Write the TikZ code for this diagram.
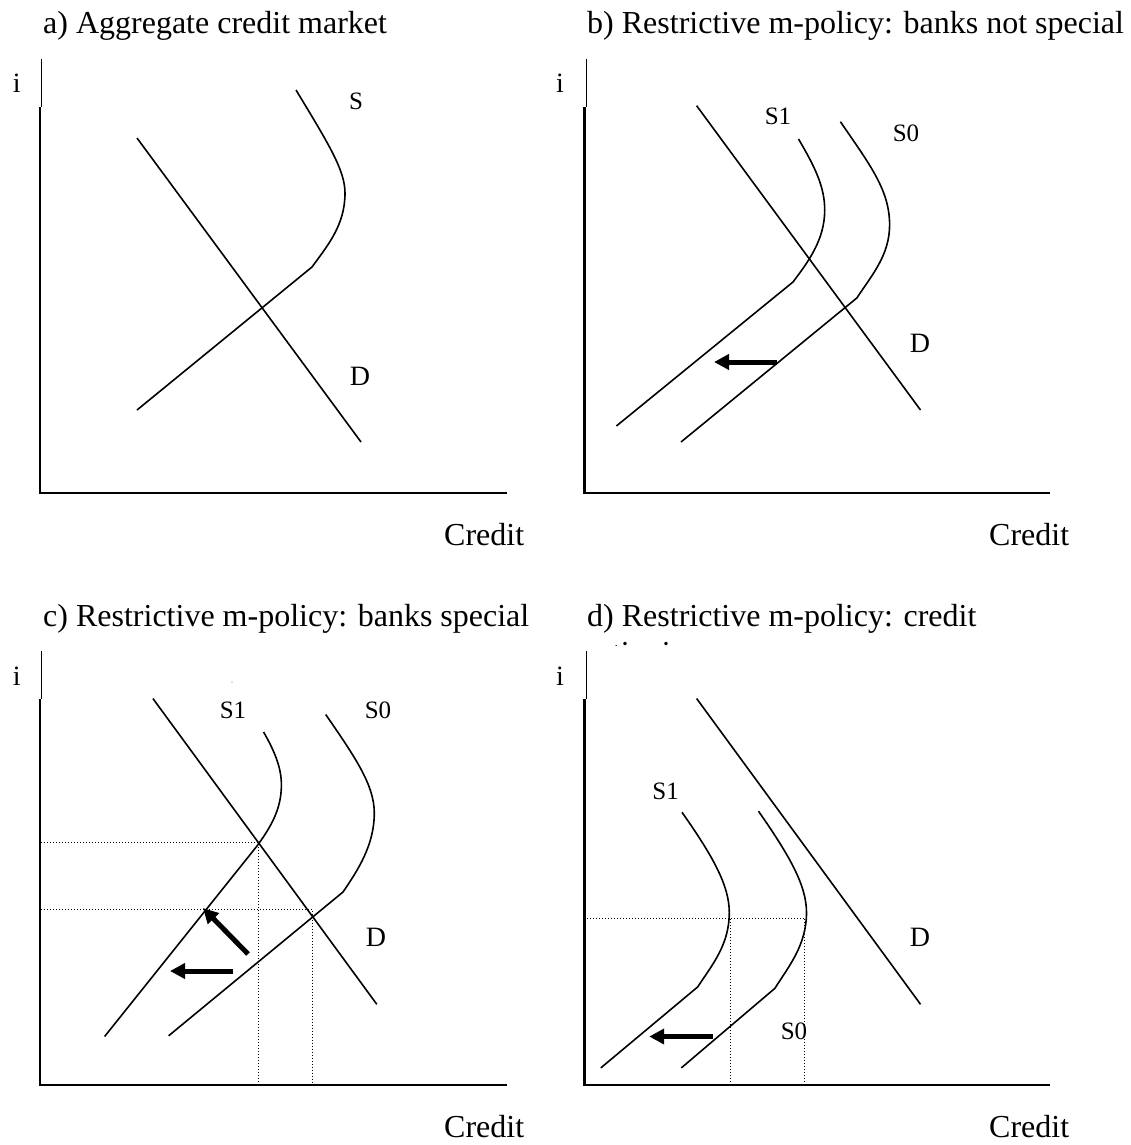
\documentclass[tikz,border=0pt]{standalone}
\usepackage{fontspec}
\setmainfont{Liberation Serif}
\usetikzlibrary{arrows.meta}
\tikzset{
  axisline/.style={line width=2.4pt},
  axistop/.style={line width=1pt},
  curve/.style={line width=1.6pt},
  guide/.style={line width=1pt, dash pattern=on 1pt off 2pt},
  shiftarrow/.style={line width=5pt, -{Triangle[length=15pt,width=15pt]}},
  titletext/.style={inner sep=0pt, anchor=base west, font=\fontsize{32}{38}\selectfont},
  axistext/.style={inner sep=0pt, anchor=base west, font=\fontsize{32}{38}\selectfont},
  itext/.style={inner sep=0pt, anchor=base west, font=\fontsize{28}{34}\selectfont},
  dlabel/.style={inner sep=0pt, anchor=center, font=\fontsize{28}{34}\selectfont},
  slabel/.style={inner sep=0pt, anchor=center, font=\fontsize{25}{30}\selectfont},
}
\begin{document}
\begin{tikzpicture}[x=1pt,y=-1pt]
\useasboundingbox[fill=white] (0,0) rectangle (1131,1145);

% ---------------- panel a ----------------
\node[titletext] (ta) at (43,34) {a) Aggregate credit market};
\node[itext] (ia) at (12.7,93) {i};
\node[axistext] (ca) at (444,545) {Credit};
\draw[axistop] (41.5,59) -- (41.5,107);
\draw[axisline] (40,107) -- (40,493) -- (507,493);
\draw[curve] (137,138) -- (361,442);
\draw[curve] (296,90) .. controls (328,143) and (345,170) .. (345,193)
  .. controls (345,225) and (328,245) .. (312,267) -- (137,410);
\node[slabel] (sa) at (356,101) {S};
\node[dlabel] (da) at (360,376) {D};

% ---------------- panel b ----------------
\node[titletext] (tb) at (587,34) {b) Restrictive m-policy: banks not special};
\node[itext] (ib) at (556,93) {i};
\node[axistext] (cb) at (989,545) {Credit};
\draw[axistop] (586,59) -- (586,107);
\draw[axisline] (584.5,107) -- (584.5,493) -- (1050,493);
\draw[curve] (696.6,105.7) -- (920.5,410);
\draw[curve] (798.5,139) .. controls (815,167) and (824.7,187) .. (824.7,210)
  .. controls (824.7,240) and (808,262) .. (793,282) -- (616.4,426);
\draw[curve] (840.4,121.7) .. controls (870,165) and (889.6,190) .. (889.6,225)
  .. controls (889.6,255) and (872,275) .. (856.8,298) -- (681,442);
\node[slabel] (s1b) at (778,116) {S1};
\node[slabel] (s0b) at (906,133) {S0};
\node[dlabel] (db) at (920,343) {D};
\coordinate (bt) at (777,362);
\coordinate (bh) at (714,362);
\draw[shiftarrow] (bt) -- (bh);

% ---------------- panel c ----------------
\node[titletext] (tc) at (43,626) {c) Restrictive m-policy: banks special};
\node[itext] (ic) at (12.7,685) {i};
\node[axistext] (cc) at (444,1137) {Credit};
\draw[axistop] (41.5,651) -- (41.5,699);
\draw[axisline] (40,699) -- (40,1085) -- (507,1085);
\fill[gray] (232,682) circle (0.7);
\draw[guide] (41,842.7) -- (258.5,842.7) -- (258.5,1085);
\draw[guide] (41,909) -- (312.3,909) -- (312.3,1085);
\draw[curve] (152.9,698.5) -- (376.8,1004.3);
\draw[curve] (263.6,732) .. controls (275,752) and (281.4,768) .. (281.4,785)
  .. controls (281.4,810) and (270,828) .. (257,846) -- (104.6,1036.5);
\draw[curve] (325.7,714.5) .. controls (355,757) and (374.3,785) .. (374.3,813)
  .. controls (374.3,845) and (358,870) .. (343,892) -- (168.6,1035.8);
\node[slabel] (s1c) at (233,710) {S1};
\node[slabel] (s0c) at (378,710) {S0};
\node[dlabel] (dc) at (376,937) {D};
\coordinate (ct1) at (248,954);
\coordinate (ch1) at (203,908);
\draw[shiftarrow] (ct1) -- (ch1);
\coordinate (ct2) at (232.7,971);
\coordinate (ch2) at (170,971);
\draw[shiftarrow] (ct2) -- (ch2);

% ---------------- panel d ----------------
\node[titletext] (td) at (587,626) {d) Restrictive m-policy: credit};
\begin{scope}
\clip (580,600) rectangle (1131,645);
\node[titletext] (td2) at (587,663) {rationing};
\end{scope}
\node[itext] (id) at (556,685) {i};
\node[axistext] (cd) at (989,1137) {Credit};
\draw[axistop] (586,651) -- (586,699);
\draw[axisline] (584.5,699) -- (584.5,1085) -- (1050,1085);
\draw[guide] (584,918.8) -- (804,918.8);
\draw[guide] (730,918.8) -- (730,1085);
\draw[guide] (804,918.8) -- (804,1081);
\draw[curve] (696.6,698.5) -- (920.5,1004.3);
\draw[curve] (682,812.3) .. controls (712,855) and (729.3,885) .. (729.3,912.5)
  .. controls (729.3,945) and (712,965) .. (697.7,986.9) -- (600.8,1067.9);
\draw[curve] (758.5,811.2) .. controls (789,855) and (806.5,885) .. (806.5,912.5)
  .. controls (806.5,945) and (789,966) .. (774.9,988.3) -- (681.3,1067.9);
\node[slabel] (s1d) at (665.6,791) {S1};
\node[slabel] (s0d) at (794,1031) {S0};
\node[dlabel] (dd) at (920,937) {D};
\coordinate (dt) at (713,1036.5);
\coordinate (dh) at (649.2,1036.5);
\draw[shiftarrow] (dt) -- (dh);
\end{tikzpicture}
\end{document}
